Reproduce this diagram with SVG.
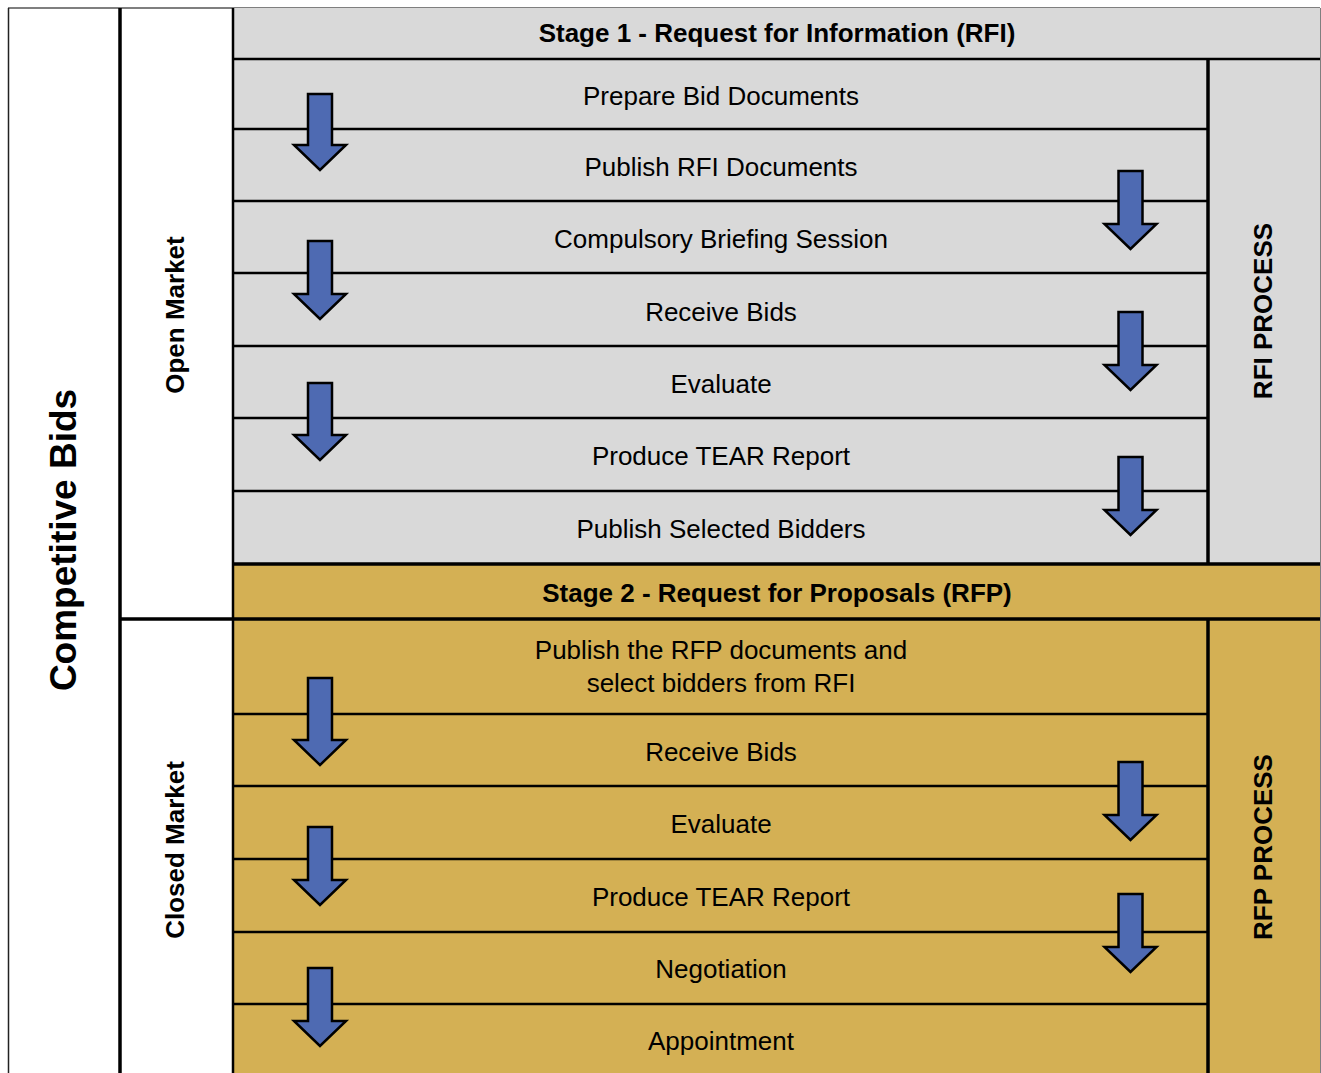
<svg xmlns="http://www.w3.org/2000/svg" width="1321" height="1073" viewBox="0 0 1321 1073">
  <style>
    .lbl { font-family: "Liberation Sans", Arial, sans-serif; font-size: 26px; fill: #000; text-anchor: middle; }
    .b { font-weight: bold; }
    .big { font-size: 37px; }
    .line { stroke: #000; stroke-width: 2.5; fill: none; }
    .thick { stroke: #000; stroke-width: 3.5; fill: none; }
    .arrow { fill: #4E6AB2; stroke: #000; stroke-width: 2.5; stroke-linejoin: miter; }
  </style>

  <rect x="0" y="0" width="1321" height="1073" fill="#fff"/>

  <!-- outer frame and left label columns -->
  <g id="frame">
    <line x1="8" y1="8" x2="1320" y2="8" stroke="#555" stroke-width="1.5"/>
    <line x1="8.5" y1="8" x2="8.5" y2="1073" stroke="#222" stroke-width="1.5"/>
    <line x1="1319.5" y1="8" x2="1319.5" y2="1073" stroke="#000" stroke-width="2"/>
  </g>

  <g id="competitive-bids">
    <text class="lbl b big" transform="translate(76,540) rotate(-90)">Competitive Bids</text>
  </g>

  <g id="open-market">
    <text class="lbl b" transform="translate(184,315) rotate(-90)">Open Market</text>
  </g>

  <g id="closed-market">
    <text class="lbl b" transform="translate(184,850) rotate(-90)">Closed Market</text>
  </g>

  <!-- Stage 1 block -->
  <g id="stage1">
    <rect x="233" y="8" width="1087" height="556" fill="#D9D9D9"/>
    <text class="lbl b" x="777" y="42">Stage 1 - Request for Information (RFI)</text>
  </g>
  <g id="rfi-process">
    <text class="lbl b" transform="translate(1272,311) rotate(-90)">RFI PROCESS</text>
  </g>
  <g id="rfi-steps">
    <text class="lbl" x="721" y="105">Prepare Bid Documents</text>
    <text class="lbl" x="721" y="176">Publish RFI Documents</text>
    <text class="lbl" x="721" y="248">Compulsory Briefing Session</text>
    <text class="lbl" x="721" y="321">Receive Bids</text>
    <text class="lbl" x="721" y="393">Evaluate</text>
    <text class="lbl" x="721" y="465">Produce TEAR Report</text>
    <text class="lbl" x="721" y="538">Publish Selected Bidders</text>
  </g>

  <!-- Stage 2 block -->
  <g id="stage2">
    <rect x="233" y="564" width="1087" height="509" fill="#D4B054"/>
    <text class="lbl b" x="777" y="602">Stage 2 - Request for Proposals (RFP)</text>
  </g>
  <g id="rfp-process">
    <text class="lbl b" transform="translate(1272,847) rotate(-90)">RFP PROCESS</text>
  </g>
  <g id="rfp-steps">
    <text class="lbl" x="721" y="659">Publish the RFP documents and</text>
    <text class="lbl" x="721" y="692">select bidders from RFI</text>
    <text class="lbl" x="721" y="761">Receive Bids</text>
    <text class="lbl" x="721" y="833">Evaluate</text>
    <text class="lbl" x="721" y="906">Produce TEAR Report</text>
    <text class="lbl" x="721" y="978">Negotiation</text>
    <text class="lbl" x="721" y="1050">Appointment</text>
  </g>

  <!-- grid lines -->
  <g id="grid">
    <line class="thick" x1="120" y1="8" x2="120" y2="1073"/>
    <line class="line" x1="233" y1="8" x2="233" y2="1073" stroke-width="2"/>
    <line class="thick" x1="120" y1="619" x2="233" y2="619"/>
    <line class="line" x1="233" y1="59" x2="1320" y2="59"/>
    <line class="thick" x1="1208" y1="59" x2="1208" y2="564"/>
    <line class="thick" x1="1208" y1="619" x2="1208" y2="1073"/>
    <line class="line" x1="233" y1="129" x2="1208" y2="129"/>
    <line class="line" x1="233" y1="201" x2="1208" y2="201"/>
    <line class="line" x1="233" y1="273" x2="1208" y2="273"/>
    <line class="line" x1="233" y1="346" x2="1208" y2="346"/>
    <line class="line" x1="233" y1="418" x2="1208" y2="418"/>
    <line class="line" x1="233" y1="491" x2="1208" y2="491"/>
    <line class="thick" x1="233" y1="564" x2="1320" y2="564"/>
    <line class="thick" x1="233" y1="619" x2="1320" y2="619"/>
    <line class="line" x1="233" y1="714" x2="1208" y2="714"/>
    <line class="line" x1="233" y1="786" x2="1208" y2="786"/>
    <line class="line" x1="233" y1="859" x2="1208" y2="859"/>
    <line class="line" x1="233" y1="932" x2="1208" y2="932"/>
    <line class="line" x1="233" y1="1004" x2="1208" y2="1004"/>
  </g>

  <!-- step-to-step arrows -->
  <g id="connectors">
    <path class="arrow" d="M308,94 H332 V145 H346 L320,170 L294,145 H308 Z"/>
    <path class="arrow" d="M1118.5,171 H1142.5 V224 H1156.5 L1130.5,249 L1104.5,224 H1118.5 Z"/>
    <path class="arrow" d="M308,241 H332 V294 H346 L320,319 L294,294 H308 Z"/>
    <path class="arrow" d="M1118.5,312 H1142.5 V365 H1156.5 L1130.5,390 L1104.5,365 H1118.5 Z"/>
    <path class="arrow" d="M308,383 H332 V435 H346 L320,460 L294,435 H308 Z"/>
    <path class="arrow" d="M1118.5,457 H1142.5 V510 H1156.5 L1130.5,535 L1104.5,510 H1118.5 Z"/>
    <path class="arrow" d="M308,678 H332 V740 H346 L320,765 L294,740 H308 Z"/>
    <path class="arrow" d="M1118.5,762 H1142.5 V815 H1156.5 L1130.5,840 L1104.5,815 H1118.5 Z"/>
    <path class="arrow" d="M308,827 H332 V880 H346 L320,905 L294,880 H308 Z"/>
    <path class="arrow" d="M1118.5,894 H1142.5 V947 H1156.5 L1130.5,972 L1104.5,947 H1118.5 Z"/>
    <path class="arrow" d="M308,968 H332 V1021 H346 L320,1046 L294,1021 H308 Z"/>
  </g>
</svg>
